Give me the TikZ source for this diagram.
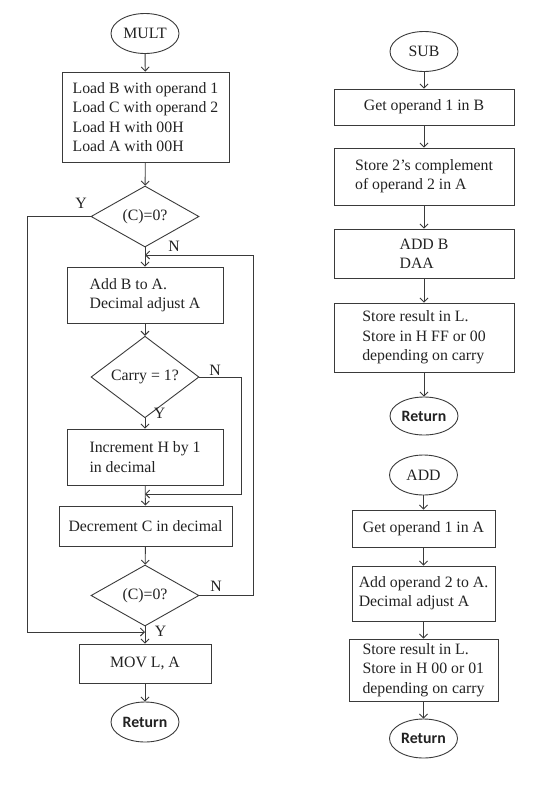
\documentclass[tikz,border=0pt]{standalone}
\usepackage{fontspec}
\setmainfont{Liberation Serif}
\newfontfamily\retfont{Carlito}
\usetikzlibrary{shapes.geometric,arrows.meta}
\definecolor{ln}{HTML}{3A3A3A}
\definecolor{tx}{HTML}{222222}
\tikzset{
  base/.style={draw=ln, line width=0.9pt, text=tx, inner sep=0pt, font=\fontsize{15.8}{19.3}\selectfont},
  box/.style={base, rectangle, align=left},
  term/.style={base, ellipse, minimum width=68pt, minimum height=40pt},
  dec/.style={base, diamond, minimum width=108pt, minimum height=61pt},
  lbl/.style={text=tx, inner sep=0pt, font=\fontsize{15.8}{19.3}\selectfont},
  arr/.style={draw=ln, line width=0.9pt, -{Straight Barb[length=4pt,width=8pt]}},
  ln/.style={draw=ln, line width=0.9pt}
}
\begin{document}
\begin{tikzpicture}[x=1pt,y=-1pt]
\useasboundingbox (0,0) rectangle (547,785);
% MULT column
\node[term] (mult) at (145,33.5) {MULT};
\node[box, minimum width=167pt, minimum height=90pt] (b1) at (145.5,117) {Load B with operand 1\\Load C with operand 2\\Load H with 00H\\Load A with 00H};
\node[dec] (d1) at (145,216.5) {(C)=0?};
\node[box, minimum width=156pt, minimum height=56pt] (b2) at (145,295) {Add B to A.\\Decimal adjust A};
\node[dec] (d2) at (145,377) {Carry = 1?};
\node[box, minimum width=156pt, minimum height=56pt] (b3) at (145,457) {Increment H by 1\\in decimal};
\node[box, minimum width=173pt, minimum height=40pt] (b4) at (145.5,526) {Decrement C in decimal};
\node[dec] (d3) at (145,595.5) {(C)=0?};
\node[box, minimum width=132pt, minimum height=39pt] (mov) at (145,663.5) {MOV L, A};
\node[term] (ret1) at (145,722) {\retfont\bfseries Return};
\node[lbl] (y1) at (81,203) {Y};
\node[lbl] (n1) at (174,246) {N};
\node[lbl] (n2) at (215,370) {N};
\node[lbl] (y2) at (159.5,413) {Y};
\node[lbl] (n3) at (216,586) {N};
\node[lbl] (y3) at (160.5,631) {Y};
\coordinate (ya) at (27,216.5);
\coordinate (yb) at (27,632);
\coordinate (yj) at (145,632);
\coordinate (la) at (253,595.5);
\coordinate (lb) at (253,255);
\coordinate (lj) at (145,255);
\coordinate (ca) at (241,377);
\coordinate (cb) at (241,494);
\coordinate (cj) at (145,494);
\draw[arr] (mult) -- (b1);
\draw[arr] (b1) -- (d1);
\draw[arr] (d1) -- (b2);
\draw[arr] (b2) -- (d2);
\draw[arr] (d2) -- (b3);
\draw[arr] (b3) -- (b4);
\draw[arr] (b4) -- (d3);
\draw[arr] (d3) -- (mov);
\draw[arr] (mov) -- (ret1);
\draw[arr] (d1.west) -- (ya) -- (yb) -- (yj);
\draw[arr] (d3.east) -- (la) -- (lb) -- (lj);
\draw[arr] (d2.east) -- (ca) -- (cb) -- (cj);
% SUB column
\node[term] (sub) at (424,51.5) {SUB};
\node[box, minimum width=180pt, minimum height=36pt] (s1) at (424,107) {Get operand 1 in B};
\node[box, minimum width=180pt, minimum height=57pt] (s2) at (424,176.5) {Store 2’s complement\\of operand 2 in A};
\node[box, minimum width=180pt, minimum height=49pt] (s3) at (424,253.5) {ADD B\\DAA};
\node[box, minimum width=180pt, minimum height=69pt] (s4) at (424,337.5) {Store result in L.\\Store in H FF or 00\\depending on carry};
\node[term, minimum height=38pt] (ret2) at (424,416) {\retfont\bfseries Return};
\draw[arr] (sub) -- (s1);
\draw[arr] (s1) -- (s2);
\draw[arr] (s2) -- (s3);
\draw[arr] (s3) -- (s4);
\draw[arr] (s4) -- (ret2);
% ADD column
\node[term] (add) at (423.5,475) {ADD};
\node[box, minimum width=143pt, minimum height=37pt] (a1) at (423.5,528.5) {Get operand 1 in A};
\node[box, minimum width=143pt, minimum height=55pt] (a2) at (423.5,593.5) {Add operand 2 to A.\\Decimal adjust A};
\node[box, minimum width=149pt, minimum height=62pt] (a3) at (423.5,670) {Store result in L.\\Store in H 00 or 01\\depending on carry};
\node[term, minimum height=39pt] (ret3) at (423.5,738.5) {\retfont\bfseries Return};
\draw[arr] (add) -- (a1);
\draw[arr] (a1) -- (a2);
\draw[arr] (a2) -- (a3);
\draw[arr] (a3) -- (ret3);
\end{tikzpicture}
\end{document}
